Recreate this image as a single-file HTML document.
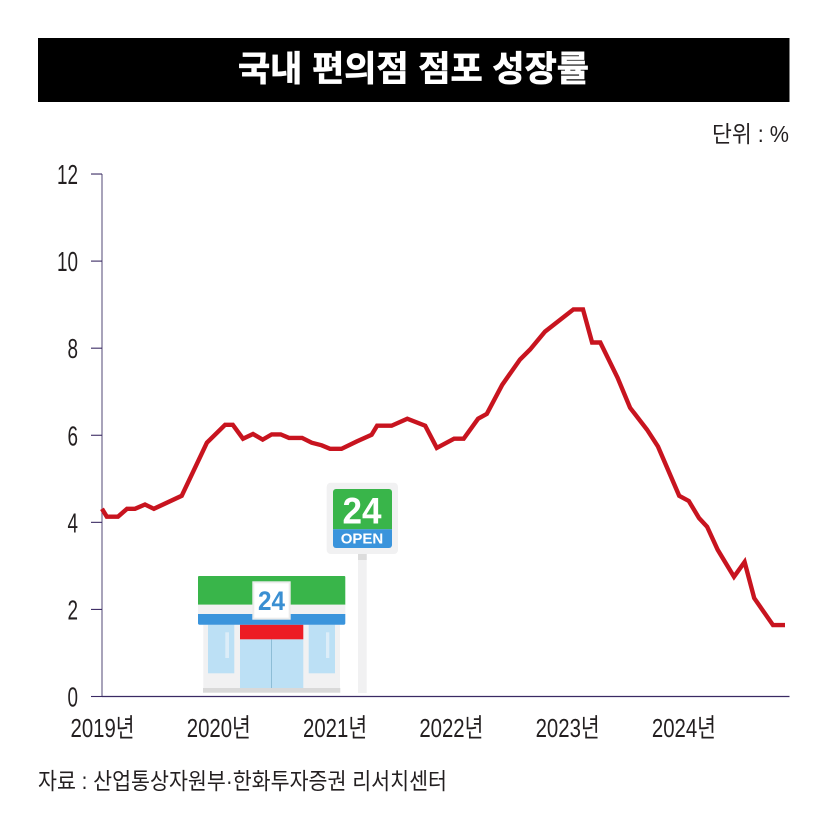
<!DOCTYPE html>
<html lang="ko">
<head>
<meta charset="utf-8">
<title>국내 편의점 점포 성장률</title>
<style>
html,body{margin:0;padding:0;background:#fff;}
#wrap{width:829px;height:816px;overflow:hidden;}
svg{display:block;}
text{font-family:"Liberation Sans","Noto Sans CJK KR",sans-serif;}
</style>
</head>
<body>
<div id="wrap">
<svg id="chart" width="829" height="816" viewBox="0 0 829 816">
  <rect x="38" y="38" width="751.5" height="64" fill="#000"/>
  <text x="413.5" y="81" text-anchor="middle" textLength="351" lengthAdjust="spacingAndGlyphs" font-size="35" font-weight="700" fill="#fff" stroke="#fff" stroke-width="0.7">국내 편의점 점포 성장률</text>
  <text x="789" y="142" text-anchor="end" textLength="77" lengthAdjust="spacingAndGlyphs" font-size="23" fill="#231f20">단위 : %</text>

  <g id="illustration">
    <g>
      <rect x="358" y="554" width="8.7" height="139" fill="#f1f1f2"/>
      <rect x="358" y="554" width="8.7" height="6" fill="#dcdcdc"/>
      <rect x="326.7" y="482.7" width="71.3" height="71.3" rx="4" fill="#f1f1f2"/>
      <path d="M333 529.3V492a3 3 0 0 1 3-3h53a3 3 0 0 1 3 3v37.3z" fill="#39b54a"/>
      <path d="M333 529.3h59V545a3 3 0 0 1-3 3h-53a3 3 0 0 1-3-3z" fill="#3a94dc"/>
      <text x="362" y="523.3" text-anchor="middle" textLength="39" lengthAdjust="spacingAndGlyphs" font-size="37" font-weight="700" fill="#fff">24</text>
      <text x="362" y="543.3" text-anchor="middle" font-size="15" font-weight="700" fill="#fff">OPEN</text>
    </g>
    <g>
      <rect x="203.3" y="624" width="136.7" height="64" fill="#f1f1f2"/>
      <rect x="203" y="688" width="137.3" height="4.7" fill="#d9d9d9"/>
      <rect x="208" y="624.7" width="26.3" height="48.6" fill="#bce0f5"/>
      <rect x="308.7" y="624.7" width="26.3" height="48.6" fill="#bce0f5"/>
      <rect x="225.3" y="632.3" width="3.7" height="25.7" fill="#dcedf8"/>
      <rect x="326" y="632.3" width="3.3" height="25.7" fill="#dcedf8"/>
      <rect x="240" y="639.3" width="63.3" height="48.7" fill="#bce0f5"/>
      <rect x="271" y="639.3" width="1" height="48.7" fill="#8dbdd6"/>
      <rect x="240" y="624.7" width="63.3" height="14.6" fill="#ed1c24"/>
      <path d="M198 604.7V577a1 1 0 0 1 1-1h145.300a1 1 0 0 1 1 1v27.700z" fill="#39b54a"/>
      <rect x="198" y="604.7" width="147.300" height="9.300" fill="#f1f1f2"/>
      <path d="M198 614h147.300v9a1.500 1.500 0 0 1-1.500 1.700H199.500a1.500 1.500 0 0 1-1.500-1.700z" fill="#3a94dc"/>
      <rect x="253.300" y="582.300" width="36.400" height="36.400" fill="#fff" stroke="#ececec" stroke-width="2"/>
      <text x="271.500" y="610" text-anchor="middle" textLength="27" lengthAdjust="spacingAndGlyphs" font-size="27" font-weight="700" fill="#3a8fd2">24</text>
    </g>
  </g>

  <g id="axes"></g>
  <g id="series"></g>

  <text x="38" y="789" textLength="409" lengthAdjust="spacingAndGlyphs" font-size="23" fill="#231f20">자료 : 산업통상자원부·한화투자증권 리서치센터</text>
</svg>
</div>
<script>
var yTicks = [0, 2, 4, 6, 8, 10, 12];
var yearLabels = ['2019년', '2020년', '2021년', '2022년', '2023년', '2024년'];
var yearStartMonths = [0, 12, 24, 36, 48, 60];
var monthsSinceStart = [0, 0.5, 1.66, 2.6, 3.43, 4.47, 5.4, 8.28, 10.9, 12.8, 13.6, 14.66, 15.7, 16.7, 17.64, 18.58, 19.44, 20.8, 21.8, 22.84, 23.7, 24.9, 26.5, 28.03, 28.6, 30.1, 31.74, 33.6, 34.8, 36.6, 37.6, 39.1, 40, 41.6, 43.45, 44.5, 46.05, 49, 50, 50.95, 51.8, 53.6, 54.9, 56.65, 57.8, 60, 61, 62.06, 62.9, 64, 65.7, 66.8, 67.8, 69.75, 71];
var growthRates = [4.31, 4.13, 4.13, 4.31, 4.31, 4.41, 4.31, 4.61, 5.83, 6.24, 6.24, 5.92, 6.03, 5.9, 6.02, 6.02, 5.94, 5.94, 5.83, 5.77, 5.69, 5.69, 5.86, 6.01, 6.22, 6.22, 6.38, 6.22, 5.71, 5.92, 5.92, 6.38, 6.49, 7.16, 7.74, 7.97, 8.38, 8.89, 8.89, 8.13, 8.13, 7.32, 6.63, 6.13, 5.74, 4.61, 4.49, 4.1, 3.9, 3.37, 2.75, 3.09, 2.26, 1.64, 1.64];

var NS = 'http://www.w3.org/2000/svg';
var axisColor = '#3a2a63';
var textColor = '#231f20';

function xScale(month) { return 102 + month * 9.62; }
function yScale(value) { return 696.5 - value * 43.54; }
function yearLabelX(month) { return 102.5 + month * 9.69; }

function make(tag, attrs, parent) {
  var el = document.createElementNS(NS, tag);
  for (var k in attrs) { el.setAttribute(k, attrs[k]); }
  parent.appendChild(el);
  return el;
}

var axes = document.getElementById('axes');
var series = document.getElementById('series');

var yAxisLine = make('line', {x1: 102, x2: 102, y1: yScale(12), y2: yScale(0), stroke: '#6f668c', 'stroke-width': 1.2}, axes);



var xAxisLine = make('line', {x1: 102, x2: 789.5, y1: yScale(0), y2: yScale(0), stroke: axisColor, 'stroke-width': 1.2}, axes);



yTicks.forEach(function (t) {
  var tick = make('line', {x1: 91, x2: 102, y1: yScale(t), y2: yScale(t), stroke: axisColor, 'stroke-width': 1.1}, axes);
  
  
  var label = make('text', {x: 78, y: yScale(t) + 10, 'text-anchor': 'end', 'font-size': 28, fill: textColor, textLength: String(t).length * 10.5, lengthAdjust: 'spacingAndGlyphs'}, axes);
  label.textContent = String(t);
  
  
});

yearLabels.forEach(function (name, i) {
  var label = make('text', {x: yearLabelX(yearStartMonths[i]), y: 737, 'text-anchor': 'middle', 'font-size': 26, fill: textColor, textLength: 64, lengthAdjust: 'spacingAndGlyphs'}, axes);
  label.textContent = name;
  
  
});

var pts = monthsSinceStart.map(function (m, i) {
  return xScale(m).toFixed(1) + ',' + yScale(growthRates[i]).toFixed(1);
}).join(' ');
var line = make('polyline', {points: pts, fill: 'none', stroke: '#c8141f', 'stroke-width': 4.4, 'stroke-linejoin': 'miter', 'stroke-linecap': 'butt'}, series);


</script>
</body>
</html>
